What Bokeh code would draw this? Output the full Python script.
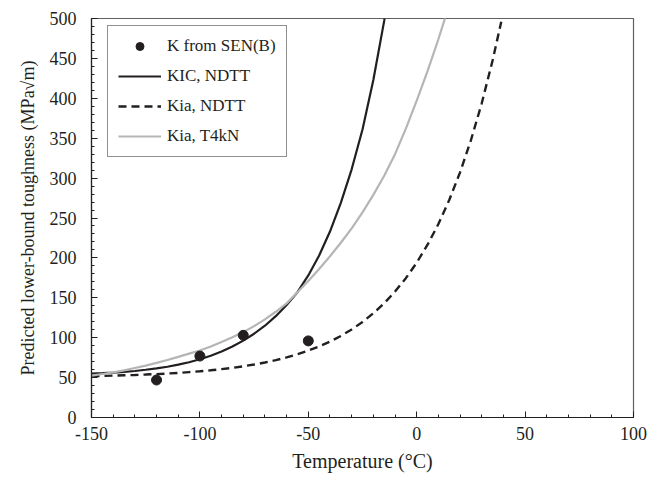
from bokeh.plotting import figure
from bokeh.models import FixedTicker, Legend, LegendItem, Range1d
from bokeh.embed import file_html
from bokeh.resources import INLINE

# ---- data ----
sen_temp = [-120, -100, -80, -50]
sen_k = [47, 77, 103, 96]

kic_ndtt_temp = [-150, -145, -140, -135, -130, -125, -120, -115, -110, -105, -100,
                 -95, -90, -85, -80, -75, -70, -65, -60, -55, -50, -45, -40, -35,
                 -30, -25, -20, -15, -14]
kic_ndtt_k = [55.0, 55.6, 56.3, 57.2, 58.3, 59.8, 61.5, 63.6, 66.2, 69.3, 73.0,
              77.4, 82.6, 88.9, 96.3, 105.0, 115.0, 127.0, 141.0, 157.0, 178.0,
              203.0, 233.0, 269.0, 311.0, 361.0, 423.0, 497.0, 514.0]

kia_ndtt_temp = [-150, -145, -140, -135, -130, -125, -120, -115, -110, -105, -100,
                 -95, -90, -85, -80, -75, -70, -65, -60, -55, -50, -45, -40, -35,
                 -30, -25, -20, -15, -10, -5, 0, 5, 10, 15, 20, 25, 30, 35, 39]
kia_ndtt_k = [51.9, 52.1, 52.5, 52.9, 53.3, 53.8, 54.4, 55.1, 55.9, 56.9, 57.9,
              59.2, 60.6, 62.2, 64.2, 66.4, 68.9, 71.9, 75.3, 79.2, 83.8, 89.0,
              95.1, 102.2, 110.3, 119.7, 130.6, 143.2, 157.8, 174.6, 194.0, 216.5,
              242.4, 272.5, 307.2, 347.4, 393.7, 447.3, 496.0]

kia_t4kn_temp = [-150, -145, -140, -135, -130, -125, -120, -115, -110, -105, -100,
                 -95, -90, -85, -80, -75, -70, -65, -60, -55, -50, -45, -40, -35,
                 -30, -25, -20, -15, -10, -5, 0, 5, 10, 15]
kia_t4kn_k = [52.5, 54.5, 56.5, 59.0, 62.0, 65.0, 68.5, 72.0, 76.0, 80.0, 84.0,
              89.0, 94.5, 100.5, 107.0, 114.5, 123.0, 132.5, 143.0, 157.0, 171.0,
              186.0, 202.0, 219.0, 237.0, 257.0, 279.0, 303.0, 330.0, 362.0, 397.0,
              434.0, 474.0, 517.0]

x_ticks = [-150, -100, -50, 0, 50, 100]
x_tick_labels = ["-150", "-100", "-50", "0", "50", "100"]
y_ticks = [0, 50, 100, 150, 200, 250, 300, 350, 400, 450, 500]
y_tick_labels = ["0", "50", "100", "150", "200", "250", "300", "350", "400", "450", "500"]

FONT = "Liberation Serif"
INK = "#231f20"
GRAY = "#b5b5b5"

p = figure(frame_width=542, frame_height=399,
           x_range=Range1d(-150, 100), y_range=Range1d(0, 500),
           output_backend="svg", toolbar_location=None,
           min_border_left=91, min_border_top=18, min_border_right=19,
           min_border_bottom=54)

p.background_fill_color = "white"
p.border_fill_color = "white"
p.outline_line_color = "#606060"
p.outline_line_width = 1.2
p.xgrid.grid_line_color = None
p.ygrid.grid_line_color = None

r_kic = p.line(kic_ndtt_temp, kic_ndtt_k, line_color=INK, line_width=2.2)
r_kia = p.line(kia_ndtt_temp, kia_ndtt_k, line_color=INK, line_width=2.4,
               line_dash="8 5")
r_t4 = p.line(kia_t4kn_temp, kia_t4kn_k, line_color=GRAY, line_width=2.2)
r_sen = p.scatter(sen_temp, sen_k, size=10, marker="circle",
                  fill_color=INK, line_color=INK)

# axes
for ax in (p.xaxis[0], p.yaxis[0]):
    ax.axis_line_color = INK
    ax.axis_line_width = 1.2
    ax.major_tick_line_color = INK
    ax.minor_tick_line_color = INK
    ax.major_tick_in = 6
    ax.major_tick_out = 0
    ax.minor_tick_in = 3
    ax.minor_tick_out = 0
    ax.major_label_text_font = FONT
    ax.major_label_text_font_size = "18px"
    ax.major_label_text_color = INK
    ax.axis_label_text_font = FONT
    ax.axis_label_text_font_style = "normal"
    ax.axis_label_text_color = INK

p.xaxis.axis_label_text_font_size = "20px"
p.yaxis.axis_label_text_font_size = "18px"
p.xaxis.ticker = FixedTicker(ticks=x_ticks, minor_ticks=list(range(-150, 101, 10)))
p.xaxis.major_label_overrides = dict(zip(x_ticks, x_tick_labels))
p.yaxis.ticker = FixedTicker(ticks=y_ticks, minor_ticks=list(range(0, 501, 10)))
p.yaxis.major_label_overrides = dict(zip(y_ticks, y_tick_labels))
p.xaxis.axis_label = "Temperature (°C)"
p.yaxis.axis_label = "Predicted lower-bound toughness (MPa√m)"
p.xaxis.major_label_standoff = 9
p.yaxis.major_label_standoff = 15
p.xaxis.axis_label_standoff = 7
p.yaxis.axis_label_standoff = 9

legend = Legend(items=[
    LegendItem(label="K from SEN(B)", renderers=[r_sen]),
    LegendItem(label="KIC, NDTT", renderers=[r_kic]),
    LegendItem(label="Kia, NDTT", renderers=[r_kia]),
    LegendItem(label="Kia, T4kN", renderers=[r_t4]),
], location=(16, 260))
legend.border_line_color = INK
legend.border_line_width = 1.2
legend.background_fill_color = "white"
legend.background_fill_alpha = 1.0
legend.label_text_font = FONT
legend.label_text_font_size = "17px"
legend.label_text_color = INK
legend.glyph_width = 43
legend.glyph_height = 20
legend.label_height = 20
legend.label_standoff = 6
legend.spacing = 10
legend.padding = 10
legend.margin = 0
p.add_layout(legend)

open("out.html", "w").write(file_html(p, INLINE))
